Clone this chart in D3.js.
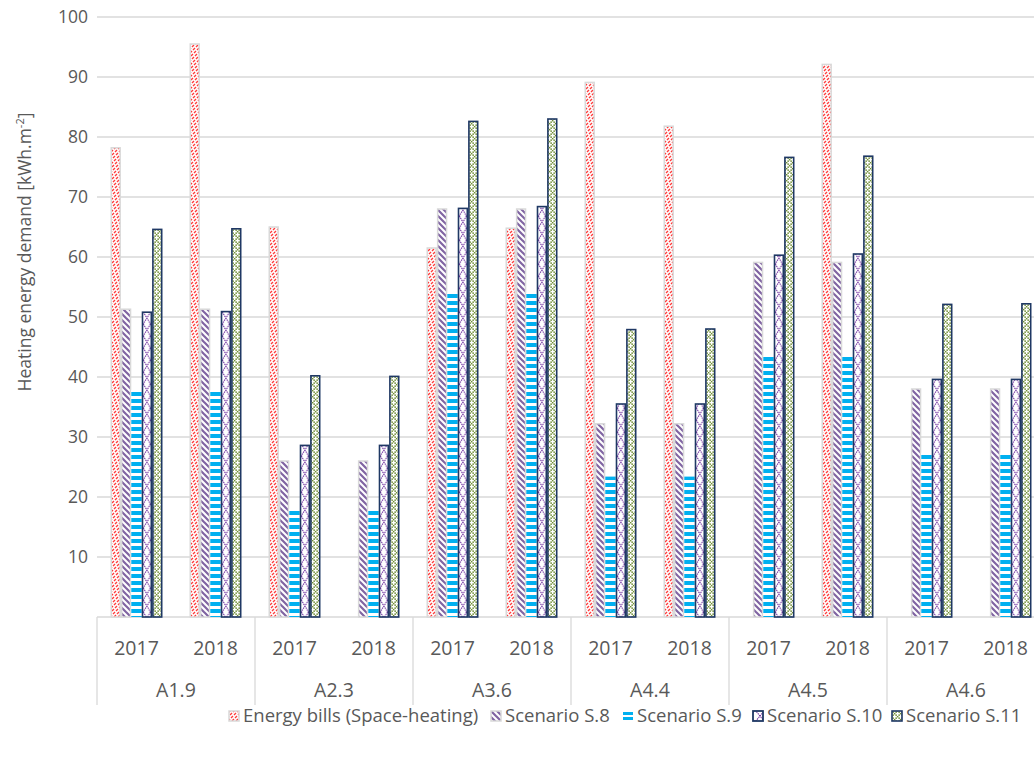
<!DOCTYPE html>
<html><head><meta charset="utf-8">
<script src="https://cdn.jsdelivr.net/npm/d3@7/dist/d3.min.js"></script>
<style>
html,body{margin:0;padding:0;background:#fff;}
svg{display:block;font-family:"Open Sans",sans-serif;}
</style></head><body>
<svg id="c" width="1034" height="757"></svg>
<script>
const sites = ["A1.9","A2.3","A3.6","A4.4","A4.5","A4.6"];
const years = ["2017","2018"];
const seriesNames = ["Energy bills (Space-heating)","Scenario S.8","Scenario S.9","Scenario S.10","Scenario S.11"];
// values per category (site-year), order: A1.9-2017, A1.9-2018, A2.3-2017, ...
const energyBills = [78.2, 95.5, 65.0, null, 61.5, 64.8, 89.1, 81.8, null, 92.1, null, null];
const scenarioS8  = [51.3, 51.3, 26.0, 26.0, 68.0, 68.0, 32.2, 32.2, 59.1, 59.1, 38.0, 38.0];
const scenarioS9  = [37.8, 37.8, 18.0, 18.0, 54.0, 54.0, 23.4, 23.4, 43.4, 43.4, 27.4, 27.4];
const scenarioS10 = [50.8, 50.9, 28.6, 28.6, 68.1, 68.4, 35.5, 35.5, 60.3, 60.5, 39.6, 39.6];
const scenarioS11 = [64.6, 64.7, 40.2, 40.1, 82.6, 83.0, 47.9, 48.0, 76.6, 76.8, 52.1, 52.2];
const yTicks = [10,20,30,40,50,60,70,80,90,100];

const seriesValues = [energyBills, scenarioS8, scenarioS9, scenarioS10, scenarioS11];
const categories = [];
sites.forEach(s => years.forEach(y => categories.push({site:s, year:y, key:s+"|"+y})));

const svg = d3.select("#c");
const plotLeft = 97, plotTop = 17, plotBottom = 617;
const catW = 79;
const plotRight = plotLeft + catW*categories.length;

const x0 = d3.scaleBand().domain(categories.map(d=>d.key)).range([plotLeft, plotRight]).padding(0);
const x1 = d3.scaleBand().domain(seriesNames).range([13.5, catW-13.5]).padding(0);
const y = d3.scaleLinear().domain([0,100]).range([plotBottom, plotTop]);

// patterns
const defs = svg.append("defs");
function pat(id, w, h, build, ox){
  const p = defs.append("pattern").attr("id",id).attr("patternUnits","userSpaceOnUse")
    .attr("width",w).attr("height",h).attr("x",ox||0).attr("y",0);
  p.append("rect").attr("width",w).attr("height",h).attr("fill","#fff");
  build(p);
  return p;
}
// red dashed upward diagonal: lines x+y=c, dashes along y
pat("pRed", 4, 12, p=>{
  let d = "";
  for(const c of [-1,3,7,11,15]){
    for(let k=-1;k<5;k++){
      const ya = 3*k, yb = 3*k+2;
      d += `M${c-ya},${ya} L${c-yb},${yb} `;
    }
  }
  p.append("path").attr("d",d).attr("stroke","#ff3c3c").attr("stroke-width",1.35).attr("fill","none");
});
// purple wide downward diagonal
pat("pPurple", 6, 6, p=>{
  p.append("path").attr("d","M0,0 L6,6 M-3,3 L3,9 M3,-3 L9,3 M-6,0 L0,6 M6,0 L12,6").attr("stroke","#8064a2").attr("stroke-width",2.2);
});
// blue horizontal stripes
pat("pBlue", 7, 7, p=>{
  p.append("rect").attr("width",7).attr("height",4).attr("fill","#00b0f0");
});
// green dotted diamond
pat("pGreen", 6, 6, p=>{
  const pts = [[0,0],[1.5,1.5],[3,3],[4.5,4.5],[4.5,1.5],[1.5,4.5]];
  p.selectAll("rect.d").data(pts).join("rect").attr("class","d")
    .attr("x",d=>d[0]-0.1).attr("y",d=>d[1]-0.1).attr("width",1.5).attr("height",1.5).attr("fill","#6e8c32");
  p.append("rect").attr("x",5.9).attr("y",5.9).attr("width",1.5).attr("height",1.5).attr("fill","#6e8c32");
  p.append("rect").attr("x",5.9).attr("y",-0.1).attr("width",0.2).attr("height",1.5).attr("fill","#6e8c32");
});
const fills = ["url(#pRed)","url(#pPurple)","url(#pBlue)",null,"url(#pGreen)"];
const strokes = ["#d9d9d9","#d9d9d9","none","#1f3864","#1f3864"];
const strokeW = [1.5,1.5,0,1.6,1.6];

// navy series: diagonal cross pattern aligned to each bar
function navyPattern(id, bx, bw){
  const ph = 12;
  return pat(id, bw, ph, p=>{
    p.append("path").attr("d",`M0,0 L${bw},${ph} M${bw},0 L0,${ph}`)
      .attr("stroke","#7030a0").attr("stroke-width",1.1).attr("stroke-dasharray","1.4,0.8");
  }, bx);
}

// gridlines
svg.append("g").selectAll("line").data([0].concat(yTicks)).join("line")
  .attr("x1",plotLeft).attr("x2",plotRight).attr("y1",d=>y(d)).attr("y2",d=>y(d))
  .attr("stroke","#d9d9d9").attr("stroke-width",1.3);

// y axis labels
const yAxis = d3.axisLeft(y).tickValues(yTicks).tickSize(0).tickPadding(9);
const gy = svg.append("g").attr("transform",`translate(${plotLeft},0)`).call(yAxis);
gy.select(".domain").remove();
gy.selectAll("text").attr("font-size",17.5).attr("fill","#595959").attr("font-family","Open Sans");

// bars
seriesNames.forEach((s,si)=>{
  const data = categories.map((c,i)=>({c, i, v:seriesValues[si][i]})).filter(d=>d.v!=null);
  svg.append("g").selectAll("rect").data(data)
    .join("rect")
    .attr("x",d=>x0(d.c.key)+x1(s)+strokeW[si]/2)
    .attr("width",x1.bandwidth()-strokeW[si])
    .attr("y",d=>y(d.v))
    .attr("height",d=>y(0)-y(d.v))
    .attr("fill",d=>{
      if(si===3){
        const id="pNavy"+d.i;
        navyPattern(id, x0(d.c.key)+x1(s)+strokeW[si], x1.bandwidth()-2*strokeW[si]);
        return `url(#${id})`;
      }
      return fills[si];
    })
    .attr("stroke",strokes[si]).attr("stroke-width",strokeW[si]);
});

// category axis
const ca = svg.append("g");
ca.selectAll("text.yr").data(categories).join("text").attr("class","yr")
  .attr("x",d=>x0(d.key)+catW/2).attr("y",655).attr("text-anchor","middle")
  .attr("font-size",19.5).attr("fill","#595959").text(d=>d.year);
const xs = d3.scaleBand().domain(sites).range([plotLeft,plotRight]);
ca.selectAll("text.st").data(sites).join("text").attr("class","st")
  .attr("x",d=>xs(d)+xs.bandwidth()/2).attr("y",697).attr("text-anchor","middle")
  .attr("font-size",19.5).attr("fill","#595959").text(d=>d);
ca.selectAll("line.sep").data(d3.range(sites.length+1)).join("line").attr("class","sep")
  .attr("x1",i=>plotLeft+i*xs.bandwidth()).attr("x2",i=>plotLeft+i*xs.bandwidth())
  .attr("y1",plotBottom).attr("y2",705).attr("stroke","#d9d9d9").attr("stroke-width",1.3);

// y title
const yt = svg.append("text").attr("transform","translate(31,252) rotate(-90)")
  .attr("text-anchor","middle").attr("font-size",17.5).attr("fill","#595959");
yt.append("tspan").text("Heating energy demand [kWh.m");
yt.append("tspan").attr("baseline-shift","super").attr("font-size",11).text("-2");
yt.append("tspan").text("]");

// legend
const legX = [228, 490, 622, 752, 891];
const lg = svg.append("g");
seriesNames.forEach((s,i)=>{
  const g = lg.append("g").attr("transform",`translate(${legX[i]},710)`);
  if(i===2){
    g.append("rect").attr("x",1).attr("y",2).attr("width",10).attr("height",3).attr("fill","#00b0f0");
    g.append("rect").attr("x",1).attr("y",7).attr("width",10).attr("height",3).attr("fill","#00b0f0");
  } else if(i===3){
    navyPattern("pNavyLeg", legX[i]+1, 10);
    g.append("rect").attr("x",1).attr("y",1).attr("width",10).attr("height",10)
      .attr("fill","url(#pNavyLeg)").attr("stroke",strokes[i]).attr("stroke-width",1.8);
  } else {
    g.append("rect").attr("x",1).attr("y",1).attr("width",10).attr("height",10)
      .attr("fill",fills[i]).attr("stroke",strokes[i]).attr("stroke-width",strokeW[i]);
  }
  g.append("text").attr("x",15).attr("y",12).attr("font-size",18.5).attr("fill","#595959").text(s);
});
</script>
</body></html>
